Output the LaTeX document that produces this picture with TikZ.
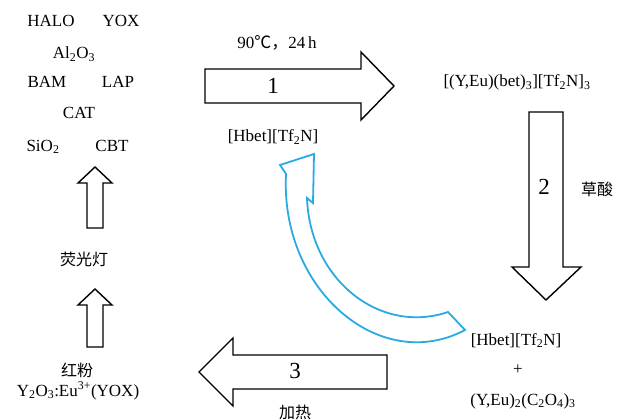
\documentclass[tikz,border=0pt]{standalone}
\usepackage{fontspec}
\setmainfont{Liberation Serif}
\newfontfamily\cjk{Noto Sans CJK SC}
\definecolor{cyanline}{RGB}{41,171,226}
\tikzset{
    lbl/.style={font=\fontsize{17}{20}\selectfont, anchor=base, inner sep=0pt},
    cnlbl/.style={font=\fontsize{16}{19}\selectfont\cjk, inner sep=0pt},
    num/.style={font=\fontsize{23}{26}\selectfont, anchor=base, inner sep=0pt},
    blockarrow/.style={draw=black, line width=1.4pt, fill=white, line join=miter},
    recycle/.style={draw=cyanline, line width=1.8pt, line join=miter}
}

\begin{document}
\begin{tikzpicture}[x=1pt,y=-1pt]
        \useasboundingbox (0,0) rectangle (622,420);
        % Phosphors of the lamp
        \node[lbl] (halo) at (51,27) {HALO};
        \node[lbl] (yox) at (121,27) {YOX};
        \node[lbl] (alo) at (74,59) {Al\textsubscript{2}O\textsubscript{3}};
        \node[lbl] (bam) at (47,88) {BAM};
        \node[lbl] (lap) at (118,88) {LAP};
        \node[lbl] (cat) at (79,119) {CAT};
        \node[lbl] (sio) at (43,151) {SiO\textsubscript{2}};
        \node[lbl] (cbt) at (112,151) {CBT};

        % Left column, going up
        \draw[blockarrow] (87,228) --++ (16,0) --++ (0,-45) --++ (9,0) -- (95,167) -- (78,183) --++ (9,0) -- cycle;
        \node[cnlbl] (lamp) at (84,259) {荧光灯};
        \draw[blockarrow] (87,347) --++ (16,0) --++ (0,-42) --++ (9,0) -- (95,289) -- (78,305) --++ (9,0) -- cycle;
        \node[cnlbl] (red) at (77,370) {红粉};
        \node[lbl] (yoxeu) at (78,396) {Y\textsubscript{2}O\textsubscript{3}:Eu\textsuperscript{3+}(YOX)};

        % Step 1: leaching
        \node[lbl] (cond) at (277,49) {90{\cjk ℃，}24\,h};
        \draw[blockarrow] (205,69) -- (361,69) -- (361,52) -- (394,86) -- (361,120) -- (361,103) -- (205,103) -- cycle;
        \node[num] (s1) at (273,94) {1};
        \node[lbl] (il) at (273,142) {[Hbet][Tf\textsubscript{2}N]};
        \node[lbl] (cplx) at (517,87) {[(Y,Eu)(bet)\textsubscript{3}][Tf\textsubscript{2}N]\textsubscript{3}};

        % Step 2: precipitation
        \draw[blockarrow] (529,112) -- (563,112) -- (563,267) -- (581,267) -- (546,300) -- (512,267) -- (529,267) -- cycle;
        \node[num] (s2) at (544,194) {2};
        \node[cnlbl] (oxa) at (597,189) {草酸};
        \node[lbl] (ilback) at (516,345) {[Hbet][Tf\textsubscript{2}N]};
        \node[lbl] (plus) at (518,374) {+};
        \node[lbl] (oxal) at (523,405) {(Y,Eu)\textsubscript{2}(C\textsubscript{2}O\textsubscript{4})\textsubscript{3}};

        % Step 3: calcination
        \draw[blockarrow] (387,355) -- (233,355) -- (233,338) -- (199,372) -- (233,406) -- (233,389) -- (387,389) -- cycle;
        \node[num] (s3) at (295,378) {3};
        \node[cnlbl] (heat) at (295,412) {加热};

        % Ionic liquid recycled
        \draw[recycle] (448,312) .. controls (380,335) and (310,280) .. (307,198) -- (313,203) -- (314,154) -- (280,165) -- (286,174) .. controls (280,290) and (380,375) .. (465,330) -- cycle;
    \end{tikzpicture}
\end{document}
